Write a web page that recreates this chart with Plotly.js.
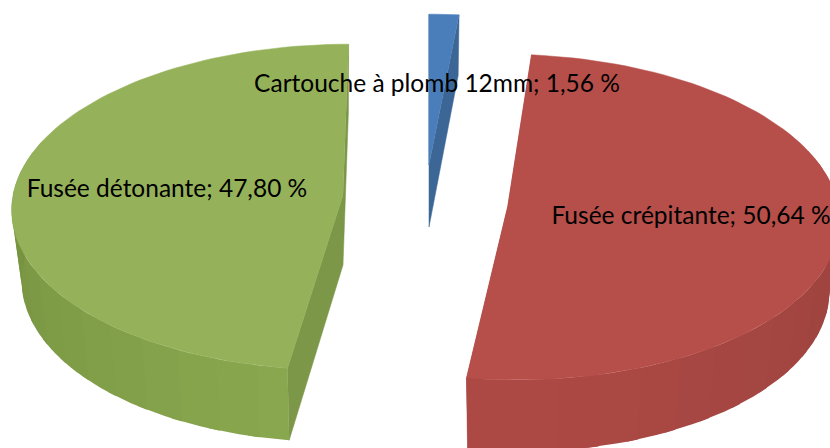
<!DOCTYPE html>
<html>
<head>
<meta charset="utf-8">
<script src="https://cdn.plot.ly/plotly-3.0.1.min.js"></script>
<style>html,body{margin:0;padding:0;background:#fff}#chart{width:830px;height:448px}</style>
</head>
<body>
<div id="chart"></div>
<script>
// Share of munitions by type (percent)
const categories = ["Cartouche à plomb 12mm", "Fusée crépitante", "Fusée détonante"];
const shares = [1.56, 50.64, 47.80];

// Colours per slice: top face, radial face, rim near the front, rim at the side
const topColors = ["#4A7EBB", "#B64E4A", "#95B25A"];
const faceColors = ["#3C6696", "#A54541", "#7B9747"];
const rimFront = [[60, 100, 150], [173, 73, 69], [139, 170, 80]];
const rimSide = [[50, 85, 130], [154, 66, 62], [118, 146, 64]];

// Tilted-disc projection; each slice has its own exploded apex and skew
const RX = 330, RY = 162, K = 0.074, SHRINK_X = 0.97, SHRINK_Y = 0.98;
const apexes = [[429, 165, 62], [508, 205, 70], [343, 195, 70]];
const skews = [0, -7, 6];
const labelAt = [[437, 86], [691, 218], [167, 191]];

function project(i, deg, r, level) {
  const [ax, ay, depth] = apexes[i];
  const t = deg * Math.PI / 180;
  const u = r * Math.sin(t), v = r * Math.cos(t);
  const w = 1 + K * v;
  const sx = level ? SHRINK_X : 1;
  const sy = level ? SHRINK_Y : 1;
  return [
    ax + sx * (RX * u + skews[i] * v) / w,
    ay - sy * RY * v / w + (level ? depth / w : 0)
  ];
}

function polygon(points, color, lineWidth) {
  return {
    type: "scatter", mode: "lines", fill: "toself", fillcolor: color,
    x: points.map(p => p[0]), y: points.map(p => p[1]),
    line: {color: color, width: lineWidth}, hoverinfo: "skip", showlegend: false
  };
}

function arc(i, a, b, level) {
  const n = Math.max(4, Math.ceil(Math.abs(b - a) / 2));
  const pts = [];
  for (let j = 0; j <= n; j++) pts.push(project(i, a + (b - a) * j / n, 1, level));
  return pts;
}

function rimColor(i, deg) {
  const f = Math.min(1, Math.abs(deg - 180) / 95);
  const c = rimFront[i].map((x, k) => Math.round(x + (rimSide[i][k] - x) * f));
  return "rgb(" + c.join(",") + ")";
}

const traces = [];
let start = 0;
const ranges = shares.map(s => {
  const r = [start, start + s * 3.6];
  start = r[1];
  return r;
});

// Side walls go first so the top faces sit over them
ranges.forEach(([a, b], i) => {
  [a, b].forEach(edge => {
    traces.push(polygon([
      project(i, edge, 0, 0), project(i, edge, 1, 0),
      project(i, edge, 1, 1), project(i, edge, 0, 1)
    ], faceColors[i], 0.5));
  });
  const from = Math.max(a, 70), to = Math.min(b, 290);
  for (let d = from; d < to; d += 7) {
    // Each band starts a little early so neighbouring bands overlap without a seam
    const s = Math.max(from, d - 2), e = Math.min(to, d + 7);
    const top = arc(i, s, e, 0), bottom = arc(i, s, e, 1).reverse();
    traces.push(polygon(top.concat(bottom), rimColor(i, (d + e) / 2), 0));
  }
});

ranges.forEach(([a, b], i) => {
  traces.push(polygon([project(i, a, 0, 0)].concat(arc(i, a, b, 0)), topColors[i], 0.5));
});

// Data labels: name; value %
traces.push({
  type: "scatter", mode: "text",
  x: labelAt.map(p => p[0]), y: labelAt.map(p => p[1]),
  text: categories.map((c, i) => c + "; " + shares[i].toFixed(2).replace(".", ",") + " %"),
  textposition: "middle center",
  textfont: {family: "Lato, 'Open Sans', sans-serif", size: 24.5, color: "#000"},
  cliponaxis: false, hoverinfo: "skip", showlegend: false
});

const hidden = {visible: false, fixedrange: true};
Plotly.newPlot("chart", traces, {
  width: 830, height: 448,
  margin: {l: 0, r: 0, t: 0, b: 0},
  paper_bgcolor: "#fff", plot_bgcolor: "#fff",
  showlegend: false,
  xaxis: Object.assign({range: [0, 830]}, hidden),
  yaxis: Object.assign({range: [448, 0]}, hidden)
}, {displayModeBar: false, staticPlot: true});
</script>
</body>
</html>
